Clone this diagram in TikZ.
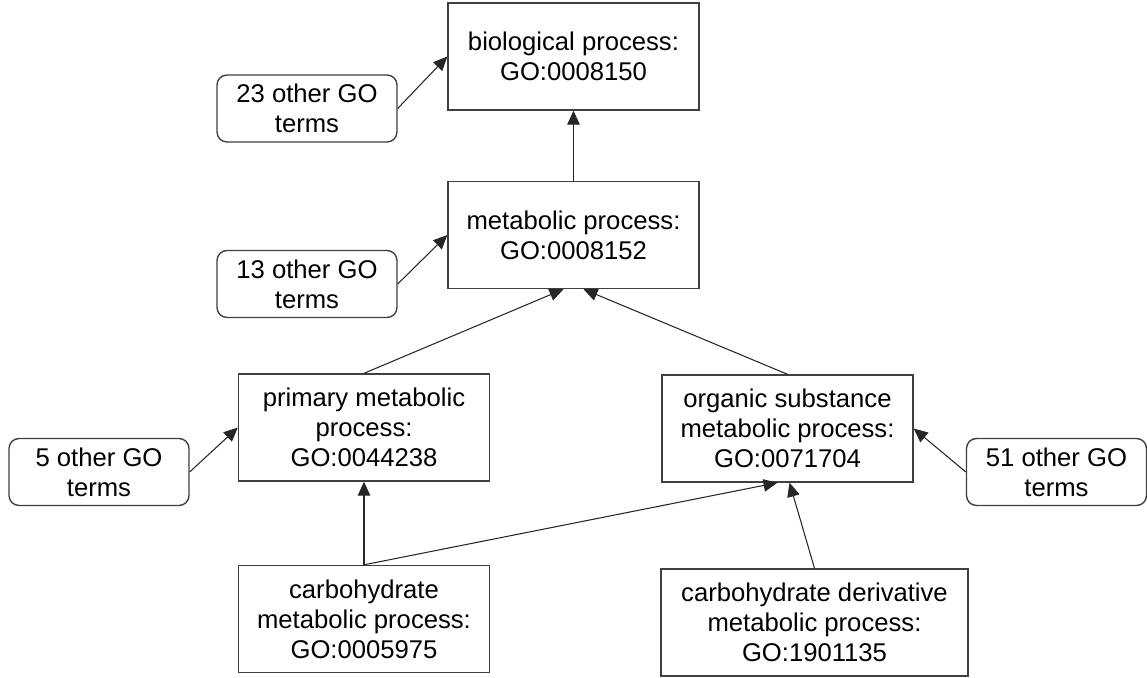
\documentclass[tikz,border=0pt]{standalone}
\usepackage{fontspec}
\setmainfont{Liberation Sans}
\usetikzlibrary{arrows.meta}
\tikzset{
  term/.style={draw=black!75, line width=0.8pt, align=center, inner sep=0pt,
    minimum width=5.02cm, minimum height=2.14cm,
    font=\fontsize{14.6pt}{17pt}\selectfont},
  others/.style={term, rounded corners=0.2cm, minimum width=3.6cm, minimum height=1.34cm},
  isa/.style={-{Triangle[length=0.28cm,width=0.25cm]}, line width=0.6pt, black!85}
}
\begin{document}
\begin{tikzpicture}[x=0.02cm,y=-0.02cm]
\useasboundingbox (0,0) rectangle (1147,678);

\node[term] (bio) at (573.5,56.5) {biological process:\\GO:0008150};
\node[term] (meta) at (573.5,235) {metabolic process:\\GO:0008152};
\node[others] (o23) at (307,108.5) {23 other GO\\terms};
\node[others] (o13) at (307,284) {13 other GO\\terms};

\node[term] (prim) at (364,427.5) {primary metabolic\\process:\\GO:0044238};
\node[term] (org) at (787.5,428.5) {organic substance\\metabolic process:\\GO:0071704};
\node[others] (o5) at (99,472) {5 other GO\\terms};
\node[others] (o51) at (1056.5,472) {51 other GO\\terms};

\node[term] (carb) at (364,619) {carbohydrate\\metabolic process:\\GO:0005975};
\node[term, minimum width=6.14cm] (deriv) at (814.5,622.5) {carbohydrate derivative\\metabolic process:\\GO:1901135};

\draw[isa] (meta) -- (bio);
\draw[isa] (o23.east) -- (bio.west);
\draw[isa] (o13.east) -- (meta.west);
\draw[isa] (prim.north) -- ([xshift=-0.2cm]meta.south);
\draw[isa] (org.north) -- ([xshift=0.2cm]meta.south);
\draw[isa] (o5.east) -- (prim.west);
\draw[isa] (o51.west) -- (org.east);
\draw[isa] (carb) -- (prim);
\draw[isa] (carb.north) -- ([xshift=-0.2cm]org.south);
\draw[isa] (deriv.north) -- ([xshift=0.04cm]org.south);
\end{tikzpicture}
\end{document}
